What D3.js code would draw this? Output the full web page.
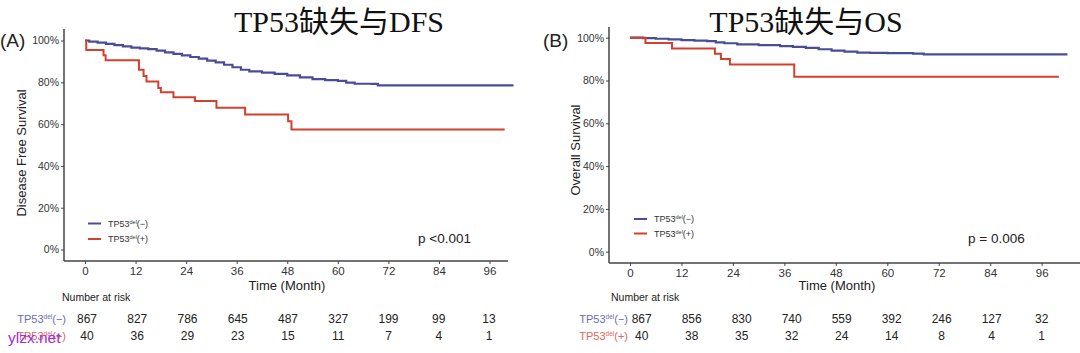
<!DOCTYPE html>
<html>
<head>
<meta charset="utf-8">
<script src="https://cdn.jsdelivr.net/npm/d3@7"></script>
<style>
  body { margin: 0; background: #fff; }
  text { font-family: "Liberation Sans", Arial, sans-serif; }
</style>
</head>
<body>
<script>
/***** Data *****/
var monthTicks = [0, 12, 24, 36, 48, 60, 72, 84, 96];
var pctTicks = [0, 20, 40, 60, 80, 100];

// DFS, TP53del(-)
var dfsNegTime = [0, 1, 3, 5, 7, 9, 11, 13, 15, 17, 19, 21, 23, 25, 27, 29, 31, 33, 35, 37, 39, 42, 45, 48, 51, 54, 57, 60, 62, 64, 68, 69.5, 101.7];
var dfsNegSurv = [100, 99.5, 99, 98.4, 97.8, 97.2, 96.6, 96.2, 95.9, 95.2, 94.3, 93.6, 92.9, 92.1, 91.3, 90.4, 89.5, 88.4, 87.2, 86, 85.2, 84.6, 84, 83.3, 82.4, 81.5, 81, 80.7, 79.8, 79.3, 79.2, 78.5, 78.5];
// DFS, TP53del(+)
var dfsPosTime = [0, 0.3, 4.4, 4.9, 12.8, 13.9, 14.6, 17.4, 18, 21, 26.1, 31.2, 38, 48.2, 49, 99.6];
var dfsPosSurv = [100, 95.5, 93, 90.5, 86, 83, 80.4, 77.3, 75.2, 72.9, 71, 67.8, 64.6, 61.4, 57.4, 57.4];

// OS, TP53del(-)
var osNegTime = [0, 3, 6, 9, 12, 15, 18, 20, 22, 25, 30, 35, 38, 41, 44, 47, 50, 53, 56, 60, 66, 68.5, 102];
var osNegSurv = [100, 99.8, 99.5, 99.2, 98.9, 98.6, 98.4, 97.8, 97.4, 96.9, 96.5, 96.1, 95.7, 95.2, 94.6, 94, 93.5, 93, 92.9, 92.8, 92.6, 92.2, 92.2];
// OS, TP53del(+)
var osPosTime = [0, 3.6, 9.8, 19.8, 21.2, 23.3, 38.3, 100];
var osPosSurv = [100, 97.5, 95, 92.5, 90, 87.5, 81.8, 81.8];

// Number at risk
var dfsRiskNeg = [867, 827, 786, 645, 487, 327, 199, 99, 13];
var dfsRiskPos = [40, 36, 29, 23, 15, 11, 7, 4, 1];
var osRiskNeg = [867, 856, 830, 740, 559, 392, 246, 127, 32];
var osRiskPos = [40, 38, 35, 32, 24, 14, 8, 4, 1];

var blue = "#4a4c96", red = "#d3412e";

var svg = d3.select("body").append("svg")
  .attr("width", 1080).attr("height", 353);
svg.append("rect").attr("width", 1080).attr("height", 353).attr("fill", "#fff");

function zip(t, s) { return t.map(function (d, i) { return [d, s[i]]; }); }

function drawPanel(p) {
  var x = d3.scaleLinear().domain([0, 96]).range(p.xRange);
  var y = d3.scaleLinear().domain([0, 100]).range(p.yRange);
  var xt = d3.scaleLinear().domain([0, 96]).range(p.tableRange);
  var g = svg.append("g");

  // title
  g.append("text").attr("x", p.titleX).attr("y", 32).attr("text-anchor", "middle")
    .style("font-family", "'Liberation Serif', 'Noto Sans CJK SC', serif")
    .style("font-size", "30px").attr("fill", "#111").text(p.title);
  g.append("text").attr("x", p.tagX).attr("y", 47)
    .style("font-size", "19px").attr("fill", "#222").text(p.tag);

  // axes
  var yAxis = d3.axisLeft(y).tickValues(pctTicks).tickFormat(function (d) { return d + "%"; })
    .tickSize(3).tickPadding(2);
  var xAxis = d3.axisBottom(x).tickValues(monthTicks).tickSize(3).tickPadding(3);

  var ga = g.append("g").attr("transform", "translate(" + p.axisX + ",0)").call(yAxis);
  var gb = g.append("g").attr("transform", "translate(0," + p.axisY + ")").call(xAxis);
  [ga, gb].forEach(function (a) {
    a.select(".domain").remove();
    a.selectAll(".tick line").attr("stroke", "#444");
    a.selectAll("text").attr("fill", "#333").style("font-family", "'Liberation Sans', Arial, sans-serif");
  });
  ga.selectAll("text").style("font-size", "10.5px");
  gb.selectAll("text").style("font-size", "11.5px");

  g.append("line").attr("x1", p.axisX).attr("x2", p.axisX).attr("y1", p.axisTop).attr("y2", p.axisY)
    .attr("stroke", "#444").attr("stroke-width", 1.5);
  g.append("line").attr("x1", p.axisX).attr("x2", p.axisRight).attr("y1", p.axisY).attr("y2", p.axisY)
    .attr("stroke", "#444").attr("stroke-width", 1.5);

  g.append("text").attr("transform", "translate(" + p.yTitleX + "," + p.yTitleY + ") rotate(-90)")
    .attr("text-anchor", "middle").style("font-size", "13px").attr("fill", "#222").text(p.yTitle);
  g.append("text").attr("x", p.xTitleX).attr("y", 290).attr("text-anchor", "middle")
    .style("font-size", "13px").attr("fill", "#222").text("Time (Month)");

  // curves
  var line = d3.line().curve(d3.curveStepAfter)
    .x(function (d) { return x(d[0]); }).y(function (d) { return y(d[1]); });
  g.append("path").datum(p.neg).attr("d", line).attr("fill", "none")
    .attr("stroke", blue).attr("stroke-width", 2.2);
  g.append("path").datum(p.pos).attr("d", line).attr("fill", "none")
    .attr("stroke", red).attr("stroke-width", 2);

  // legend
  var legend = [{ c: blue, s: "(\u2212)", y: p.legY[0] }, { c: red, s: "(+)", y: p.legY[1] }];
  legend.forEach(function (l) {
    g.append("line").attr("x1", p.legX).attr("x2", p.legX + 13).attr("y1", l.y).attr("y2", l.y)
      .attr("stroke", l.c).attr("stroke-width", 2);
    var t = g.append("text").attr("x", p.legX + 20).attr("y", l.y + 3)
      .style("font-size", "9px").attr("fill", "#333");
    t.append("tspan").text("TP53");
    t.append("tspan").attr("dy", -3).style("font-size", "5.5px").text("del");
    t.append("tspan").attr("dy", 3).text(l.s);
  });

  g.append("text").attr("x", p.pX).attr("y", 243).style("font-size", "13.5px")
    .attr("fill", "#222").text(p.pText);

  // risk table
  g.append("text").attr("x", p.riskTitleX).attr("y", 301).style("font-size", "10.5px")
    .attr("fill", "#222").text("Number at risk");
  var rows = [
    { v: p.riskNeg, c: "#6a6cb5", s: "(\u2212)", y: 323 },
    { v: p.riskPos, c: "#e0655a", s: "(+)", y: 340 }
  ];
  rows.forEach(function (r) {
    var t = g.append("text").attr("x", p.labelX).attr("y", r.y).attr("text-anchor", "end")
      .style("font-size", "11px").attr("fill", r.c);
    t.append("tspan").text("TP53");
    t.append("tspan").attr("dy", -4).style("font-size", "6.5px").text("del");
    t.append("tspan").attr("dy", 4).text(r.s);
    g.selectAll(null).data(r.v).enter().append("text")
      .attr("x", function (d, i) { return xt(monthTicks[i]); }).attr("y", r.y)
      .attr("text-anchor", "middle").style("font-size", "12px").attr("fill", "#222")
      .text(function (d) { return d; });
  });
}

drawPanel({
  title: "TP53缺失与DFS", titleX: 339, tag: "(A)", tagX: 0,
  xRange: [85, 489.5], yRange: [249.5, 40.5], tableRange: [87, 489],
  axisX: 64, axisY: 261, axisTop: 29, axisRight: 508,
  yTitle: "Disease Free Survival", yTitleX: 26, yTitleY: 153, xTitleX: 287,
  neg: zip(dfsNegTime, dfsNegSurv), pos: zip(dfsPosTime, dfsPosSurv),
  legX: 88, legY: [223.5, 239], pX: 418, pText: "p <0.001",
  riskTitleX: 62, labelX: 66, riskNeg: dfsRiskNeg, riskPos: dfsRiskPos
});

drawPanel({
  title: "TP53缺失与OS", titleX: 806, tag: "(B)", tagX: 543,
  xRange: [630, 1041.7], yRange: [251.7, 37.7], tableRange: [641.7, 1041.7],
  axisX: 609, axisY: 263, axisTop: 27, axisRight: 1080,
  yTitle: "Overall Survival", yTitleX: 580, yTitleY: 150, xTitleX: 837,
  neg: zip(osNegTime, osNegSurv), pos: zip(osPosTime, osPosSurv),
  legX: 634, legY: [219, 233.5], pX: 968, pText: "p = 0.006",
  riskTitleX: 611, labelX: 628, riskNeg: osRiskNeg, riskPos: osRiskPos
});

// watermark (sits over the second row label, as in the reference)
svg.append("text").attr("x", 8).attr("y", 343).style("font-size", "15.5px")
  .attr("fill", "#a22be0").text("ylzx.net");
</script>
</body>
</html>
